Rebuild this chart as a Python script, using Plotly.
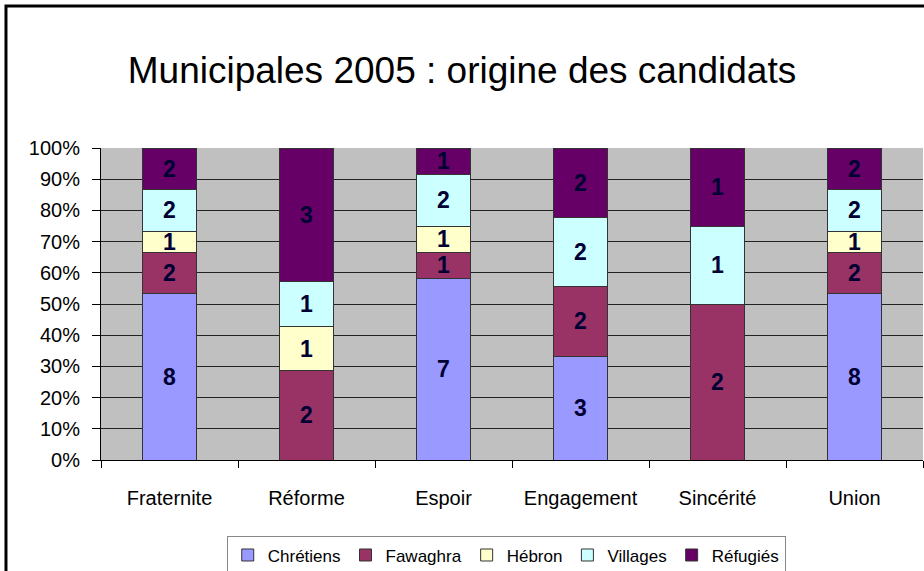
import plotly.graph_objects as go

partis = ["Fraternite", "Réforme", "Espoir", "Engagement", "Sincérité", "Union"]

chretiens = [8, 0, 7, 3, 0, 8]
fawaghra = [2, 2, 1, 2, 2, 2]
hebron = [1, 1, 1, 0, 0, 1]
villages = [2, 1, 2, 2, 1, 2]
refugies = [2, 3, 1, 2, 1, 2]

series = [
    ("Chrétiens", chretiens, "#9999FF"),
    ("Fawaghra", fawaghra, "#993366"),
    ("Hébron", hebron, "#FFFFCC"),
    ("Villages", villages, "#CCFFFF"),
    ("Réfugiés", refugies, "#660066"),
]

fig = go.Figure()
for name, vals, col in series:
    fig.add_trace(go.Bar(
        x=partis, y=vals, name=name,
        marker=dict(color=col, line=dict(color="#333333", width=1)),
        text=[str(v) if v else "" for v in vals],
        textposition="inside", insidetextanchor="middle",
        textangle=0, constraintext="none",
        textfont=dict(family="Liberation Sans, Arial", size=23, color="#000033", weight="bold"),
    ))

# cadre noir autour de l'image
fig.add_shape(type="rect", xref="paper", yref="paper",
              x0=-0.1156, x1=1.05, y0=-0.6, y1=1.455,
              line=dict(color="black", width=3), fillcolor="rgba(0,0,0,0)", layer="above")

fig.update_layout(
    width=924, height=571,
    barmode="stack", barnorm="percent", bargap=0.6,
    paper_bgcolor="white", plot_bgcolor="#C0C0C0",
    margin=dict(l=101, r=1, t=148, b=111, autoexpand=False),
    font=dict(family="Liberation Sans, Arial", color="black", size=16),
    title=dict(text="Municipales 2005 : origine des candidats", x=0.5, xref="container",
               y=0.877, yanchor="middle", font=dict(size=37)),
    showlegend=True,
    legend=dict(orientation="h", x=0.493, xanchor="center",
                y=-0.245, yanchor="top", bordercolor="#888888", borderwidth=1,
                font=dict(size=17), traceorder="normal"),
    xaxis=dict(showgrid=False, ticks="outside", ticklen=7, tickcolor="black",
               tickson="boundaries", showline=True, linecolor="black",
               tickangle=0, tickfont=dict(size=20), ticklabelstandoff=20),
    yaxis=dict(range=[0, 100], dtick=10, ticksuffix="%", showgrid=True,
               gridcolor="#222222", gridwidth=1, ticks="outside", ticklen=8,
               tickcolor="black", showline=True, linecolor="black",
               tickfont=dict(size=20), zeroline=False, ticklabelstandoff=8),
)

fig.write_html("out.html", config={"displayModeBar": False},
               post_script="document.body.style.margin='0';")
